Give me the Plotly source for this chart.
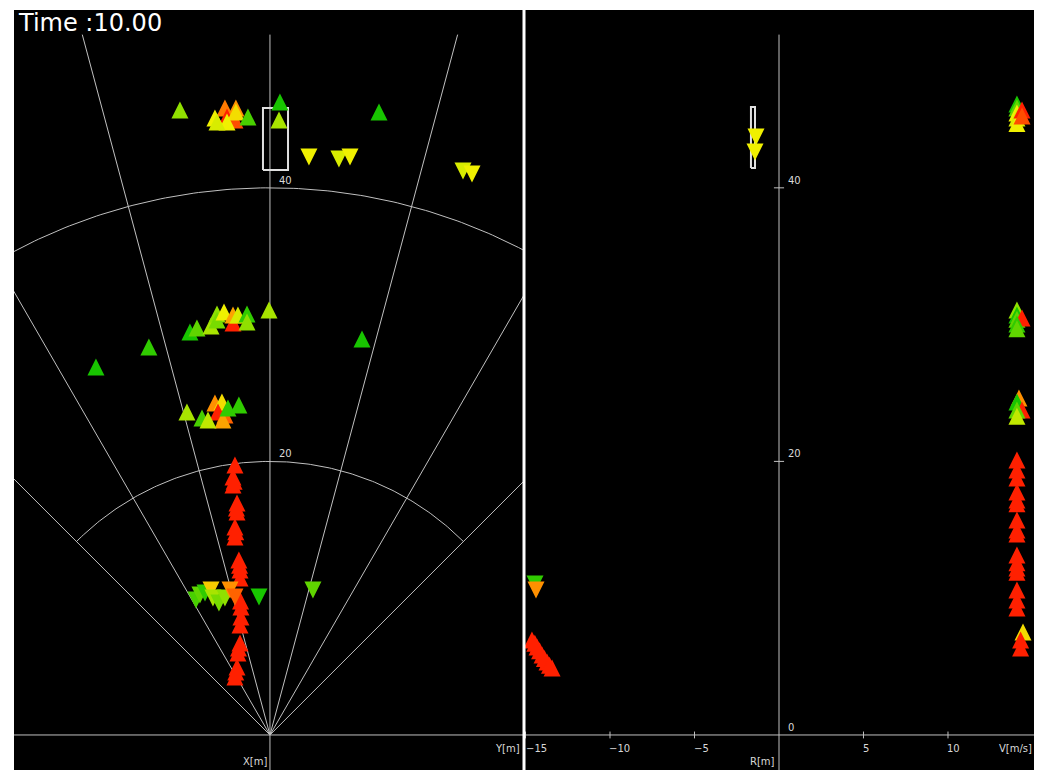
import numpy as np
import plotly.graph_objects as go

# ---------------- data (metres / m/s) ----------------
# Left (bird's-eye) panel: lateral Y, longitudinal X, colour level (0 green -> 1 red)
up_Y = [-6.58, -3.29, -2.49, -3.14, -2.56, -4.02, -2.49, -3.14, -1.61, -3.87, 0.73, 0.66, 7.97,
        -12.72, -8.85, -5.85, -5.34, -4.31, -3.87, -3.87, -3.36, -2.70, -2.70, -2.34, -1.68, -1.68, -0.07, 6.73,
        -6.07, -4.02, -3.51, -3.80, -3.29, -3.44, -4.97, -4.53, -3.07, -2.27]
up_X = [45.69, 45.83, 45.83, 45.18, 44.96, 45.10, 45.54, 44.81, 45.18, 44.81, 46.27, 44.96, 45.54,
        26.90, 28.36, 29.46, 29.75, 29.90, 30.77, 30.34, 30.92, 30.12, 30.70, 30.70, 30.77, 30.19, 31.07, 28.95,
        23.61, 24.27, 24.34, 23.61, 23.39, 23.03, 23.17, 23.03, 23.90, 24.12]
up_C = [0.3, 0.8, 0.75, 1.0, 0.9, 0.5, 0.55, 0.5, 0.15, 0.45, 0.05, 0.35, 0.05,
        0.05, 0.1, 0.05, 0.2, 0.35, 0.3, 0.25, 0.5, 1.0, 0.7, 0.45, 0.1, 0.3, 0.35, 0.05,
        0.35, 0.75, 0.55, 1.0, 0.85, 0.7, 0.15, 0.4, 0.1, 0.1]

trail_Y = [-2.56, -2.70, -2.62, -2.70, -2.41, -2.45, -2.41, -2.56, -2.50, -2.56, -2.27, -2.22, -2.19, -2.19,
           -2.15, -2.12, -2.12, -2.19, -2.19, -2.30, -2.34, -2.41, -2.50, -2.56]
trail_X = [19.74, 18.86, 18.55, 18.27, 16.96, 16.60, 16.30, 15.20, 14.85, 14.47, 12.79, 12.40, 12.06, 11.48,
           9.80, 9.36, 8.63, 8.04, 6.73, 6.35, 5.99, 4.97, 4.60, 4.24]

dn_Y = [-5.41, -5.12, -4.75, -4.31, -4.17, -3.73, -3.29, -2.92, -2.56, -0.80, 3.14,
        2.85, 5.04, 5.85, 14.11, 14.77]
dn_X = [9.87, 10.23, 10.38, 10.60, 10.01, 9.65, 10.01, 10.60, 10.09, 10.09, 10.60,
        42.25, 42.11, 42.25, 41.23, 41.01]
dn_C = [0.15, 0.2, 0.1, 0.6, 0.35, 0.25, 0.3, 0.75, 0.85, 0.05, 0.2,
        0.5, 0.45, 0.5, 0.45, 0.5]

box_left_Y = [-0.51, 1.32]
box_left_X = [41.30, 45.83]

# Right panel: Y[m] vs R[m]
yr_dn_Y = [-14.44, -14.38, -1.36, -1.42]
yr_dn_R = [11.04, 10.60, 43.71, 42.62]
yr_dn_C = [0.1, 0.75, 0.5, 0.5]
yr_up_Y = [-14.62, -14.45, -14.32, -14.17, -14.02, -13.88, -13.73, -13.58, -13.43]
yr_up_R = [6.94, 6.70, 6.43, 6.15, 5.85, 5.60, 5.34, 5.10, 4.90]
box_right_Y = [-1.66, -1.42]
box_right_R = [41.45, 45.91]

# Right panel: V[m/s] vs R[m]
v_V = [14.08, 14.08, 14.08, 14.08, 14.08, 14.38, 14.38,
       14.08, 14.08, 14.08, 14.38, 14.08, 14.08,
       14.2, 14.08, 14.38, 14.08, 14.08,
       14.08, 14.08, 14.08, 14.08, 14.08, 14.08, 14.08, 14.08, 14.08, 14.08, 14.08, 14.08,
       14.08, 14.08, 14.08, 14.08, 14.44, 14.3, 14.3]
v_R = [46.13, 45.83, 45.47, 45.10, 44.70, 45.69, 45.25,
       31.07, 30.70, 30.40, 30.48, 30.05, 29.70,
       24.63, 24.34, 23.76, 23.76, 23.30,
       20.10, 19.37, 18.79, 17.76, 17.18, 16.90, 15.72, 14.99, 14.70, 13.16, 12.60, 12.20,
       11.90, 10.60, 9.87, 9.28, 7.53, 6.94, 6.36]
v_C = [0.05, 0.2, 0.5, 0.45, 0.5, 1.0, 0.9,
       0.3, 0.05, 0.2, 1.0, 0.1, 0.2,
       0.75, 0.05, 1.0, 0.2, 0.4,
       1, 1, 1, 1, 1, 1, 1, 1, 1, 1, 1, 1,
       1, 1, 1, 1, 0.55, 1, 1]

right_ticks = [-15, -10, -5, 5, 10]
range_rings = [20, 40]
radial_angles = [-45, -30, -15, 15, 30, 45]
time_text = "Time :10.00"

# ---------------- styling ----------------
GRID = "#c0c0c0"
CSCALE = [[0, "#00c000"], [0.3, "#90e000"], [0.5, "#f0f000"], [0.75, "#ff9000"], [1, "#ff2000"]]
XL = [-18.71, 18.57]
XR = [-15.09, 15.09]
YR = [-2.56, 53.0]
TOP = 51.2
MS = 17
PX_PER_M = 760 / (YR[1] - YR[0])
HALF = (MS / 2) / PX_PER_M   # arrow symbols are anchored at the apex; shift so marks are centred

fig = go.Figure()

def line(x, y, xa="x", color=GRID, width=1):
    fig.add_trace(go.Scatter(x=x, y=y, mode="lines", xaxis=xa, yaxis="y",
                             line=dict(color=color, width=width), hoverinfo="skip", showlegend=False))

# left panel grid
line(XL, [0, 0])
line([0, 0], [YR[0], TOP])
for a in radial_angles:
    t = np.radians(a)
    r = TOP / np.cos(t)
    line([0, -r * np.sin(t)], [0, r * np.cos(t)])
for rr in range_rings:
    th = np.radians(np.linspace(-45, 45, 181))
    line(list(-rr * np.sin(th)), list(rr * np.cos(th)))
# right panel axes
line(XR, [0, 0], xa="x2")
line([0, 0], [YR[0], TOP], xa="x2")
for t in right_ticks:
    line([t, t], [-0.25, 0.25], xa="x2")
for rr in range_rings:
    line([-0.3, 0.3], [rr, rr], xa="x2")

def rect(x0, x1, y0, y1, xa):
    line([x0, x1, x1, x0, x0], [y0, y0, y1, y1, y0], xa=xa, color="#e0e0e0", width=2)

rect(box_left_Y[0], box_left_Y[1], box_left_X[0], box_left_X[1], "x")
rect(box_right_Y[0], box_right_Y[1], box_right_R[0], box_right_R[1], "x2")

def pts(x, y, c, up, xa):
    off = HALF if up else -HALF
    fig.add_trace(go.Scatter(x=x, y=[v + off for v in y], mode="markers", xaxis=xa, yaxis="y",
                             marker=dict(symbol="arrow-up" if up else "arrow-down", size=MS,
                                         color=c, colorscale=CSCALE,
                                         cmin=0, cmax=1, line=dict(width=0)),
                             hoverinfo="skip", showlegend=False))

pts(trail_Y, trail_X, [1.0] * len(trail_Y), True, "x")
pts(up_Y, up_X, up_C, True, "x")
pts(dn_Y, dn_X, dn_C, False, "x")
pts(yr_up_Y, yr_up_R, [1.0] * len(yr_up_Y), True, "x2")
pts(yr_dn_Y, yr_dn_R, yr_dn_C, False, "x2")
pts(v_V, v_R, v_C, True, "x2")

SMALL = dict(family="DejaVu Sans", size=10, color="#d8d8d8")
ann = []
for rr in range_rings:
    ann.append(dict(x=0.5, y=rr, xref="x", yref="y", text=str(rr), showarrow=False,
                    xanchor="left", yanchor="bottom", font=SMALL))
    ann.append(dict(x=0.4, y=rr, xref="x2", yref="y", text=str(rr), showarrow=False,
                    xanchor="left", yanchor="bottom", font=SMALL))
ann.append(dict(x=0.4, y=0, xref="x2", yref="y", text="0", showarrow=False,
                xanchor="left", yanchor="bottom", font=SMALL))
for t in right_ticks:
    ann.append(dict(x=max(t - 0.15, XR[0] + 0.02), y=-0.45, xref="x2", yref="y",
                    text=str(t).replace("-", "\u2212"),
                    showarrow=False, xanchor="left", yanchor="top", font=SMALL))
ann.append(dict(x=0.4985, y=-0.45, xref="paper", yref="y", text="Y[m]", showarrow=False,
                xanchor="right", yanchor="top", font=SMALL))
ann.append(dict(x=15.08, y=-0.45, xref="x2", yref="y", text="V[m/s]", showarrow=False,
                xanchor="right", yanchor="top", font=SMALL))
ann.append(dict(x=-0.1, y=-1.95, xref="x2", yref="y", text="R[m]", showarrow=False,
                xanchor="right", yanchor="middle", font=SMALL))
ann.append(dict(x=-0.1, y=-1.95, xref="x", yref="y", text="X[m]", showarrow=False,
                xanchor="right", yanchor="middle", font=SMALL))
ann.append(dict(x=0.002, y=1.004, xref="paper", yref="paper", text=time_text, showarrow=False,
                xanchor="left", yanchor="top", font=dict(family="DejaVu Sans", size=24, color="white")))

fig.update_layout(
    width=1036, height=762,
    margin=dict(l=6, r=10, t=2, b=0),
    paper_bgcolor="white", plot_bgcolor="black",
    xaxis=dict(domain=[0, 0.5], range=XL, visible=False, fixedrange=True),
    xaxis2=dict(domain=[0.5, 1], range=XR, visible=False, anchor="y", fixedrange=True),
    yaxis=dict(range=YR, visible=False, fixedrange=True),
    annotations=ann,
    shapes=[dict(type="line", xref="paper", yref="paper", x0=0.5, x1=0.5, y0=0, y1=1,
                 line=dict(color="white", width=3))],
)

fig.write_html("out.html")
